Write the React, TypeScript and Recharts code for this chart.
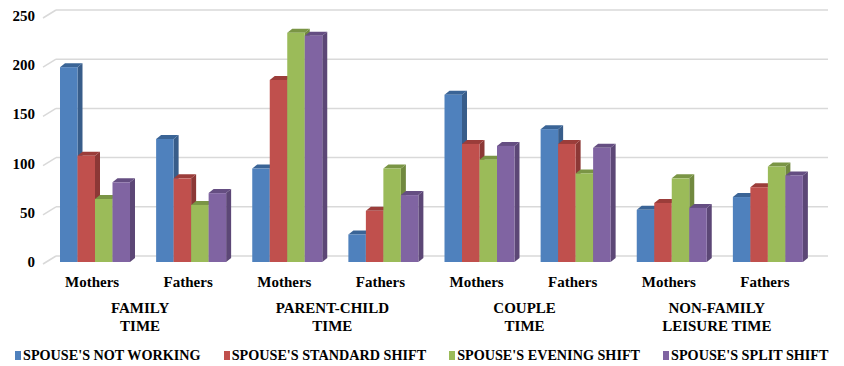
import React from "react";
import { BarChart, Bar, XAxis, YAxis, CartesianGrid, Legend } from "recharts";

const categories = ["Mothers", "Fathers", "Mothers", "Fathers", "Mothers", "Fathers", "Mothers", "Fathers"];
const groupLabels = [["FAMILY", "TIME"], ["PARENT-CHILD", "TIME"], ["COUPLE", "TIME"], ["NON-FAMILY", "LEISURE TIME"]];
const notWorking = [198, 125, 95, 28, 170, 135, 53, 66];
const standardShift = [108, 85, 185, 52, 120, 120, 60, 76];
const eveningShift = [64, 58, 233, 95, 104, 90, 85, 97];
const splitShift = [81, 70, 230, 68, 118, 116, 55, 88];
const yTicks = [0, 50, 100, 150, 200, 250];

const series = [
  { key: "notWorking", name: "SPOUSE'S NOT WORKING", color: "#4F81BD", dark: "#385D8A", top: "#3A6496" },
  { key: "standard", name: "SPOUSE'S STANDARD SHIFT", color: "#C0504D", dark: "#8C3836", top: "#9B3D3A" },
  { key: "evening", name: "SPOUSE'S EVENING SHIFT", color: "#9BBB59", dark: "#71893F", top: "#7A9545" },
  { key: "split", name: "SPOUSE'S SPLIT SHIFT", color: "#8064A2", dark: "#5C4776", top: "#654E82" },
];

const data = categories.map((c, i) => ({
  cat: c,
  idx: i,
  notWorking: notWorking[i],
  standard: standardShift[i],
  evening: eveningShift[i],
  split: splitShift[i],
}));

const FONT = "'Liberation Serif', 'DejaVu Serif', serif";
const DX = 5;
const DY = 4;

function Bar3D(props: any) {
  const { x, y, width, height, fill, dark, top } = props;
  if (height == null || height <= 0) return null;
  const side = `M${x + width},${y} L${x + width + DX},${y - DY} L${x + width + DX},${y + height - DY} L${x + width},${y + height} Z`;
  const cap = `M${x},${y} L${x + DX},${y - DY} L${x + width + DX},${y - DY} L${x + width},${y} Z`;
  return (
    <g>
      <path d={side} fill={dark} />
      <path d={cap} fill={top} />
      <rect x={x} y={y} width={width} height={height} fill={fill} />
    </g>
  );
}

function GridLine(props: any) {
  const { x1, y1, x2, index } = props;
  return (
    <g key={`g-${index}`}>
      <line x1={x1 - 4} y1={y1 + 2} x2={x1 + 9} y2={y1 - 6} stroke="#D9D9D9" strokeWidth={1.5} />
      <line x1={x1 + 9} y1={y1 - 6} x2={x2 + 12} y2={y1 - 6} stroke="#D9D9D9" strokeWidth={1.5} />
    </g>
  );
}

function CatTick(props: any) {
  const { x, y, payload, index } = props;
  const band = 96;
  const g = groupLabels[Math.floor(index / 2)];
  return (
    <g>
      <text x={x - 3} y={y + 17} textAnchor="middle" fontFamily={FONT} fontWeight="bold" fontSize={15} fill="#000">
        {payload.value}
      </text>
      {index % 2 === 0 && (
        <text x={x + band / 2 - 3} y={y + 43} textAnchor="middle" fontFamily={FONT} fontWeight="bold" fontSize={15} fill="#000">
          {g.map((line, k) => (
            <tspan key={k} x={x + band / 2 - 3} dy={k === 0 ? 0 : 18}>
              {line}
            </tspan>
          ))}
        </text>
      )}
    </g>
  );
}

function ValTick(props: any) {
  const { x, y, payload } = props;
  return (
    <text x={x - 4} y={y + 5} textAnchor="end" fontFamily={FONT} fontWeight="bold" fontSize={15} fill="#000">
      {payload.value}
    </text>
  );
}

function LegendContent() {
  return (
    <div style={{ display: "flex", gap: 23, paddingLeft: 15, fontFamily: FONT, fontWeight: "bold", fontSize: 14.2, whiteSpace: "nowrap" }}>
      {series.map((s) => (
        <div key={s.key} style={{ display: "flex", alignItems: "center" }}>
          <span style={{ display: "inline-block", width: 6, height: 9, background: s.color, marginRight: 2 }} />
          <span>{s.name}</span>
        </div>
      ))}
    </div>
  );
}

export default function App() {
  return (
    <div style={{ position: "absolute", left: 0, top: 0, width: 844, height: 366, background: "#fff" }}>
      <BarChart
        width={844}
        height={366}
        data={data}
        margin={{ top: 16, right: 28, bottom: 54, left: 3 }}
        barGap={0}
        barSize={17.5}
      >
        <CartesianGrid vertical={false} horizontal={(p: any) => <GridLine {...p} />} />
        <XAxis dataKey="cat" axisLine={false} tickLine={false} tick={<CatTick />} interval={0} />
        <YAxis
          domain={[0, 250]}
          ticks={yTicks}
          axisLine={false}
          tickLine={false}
          width={44}
          tick={<ValTick />}
        />
        <Legend
          verticalAlign="bottom"
          content={<LegendContent />}
          wrapperStyle={{ position: "absolute", left: 0, top: 347, width: 844, height: 20 }}
        />
        {series.map((s) => (
          <Bar
            key={s.key}
            dataKey={s.key}
            name={s.name}
            fill={s.color}
            isAnimationActive={false}
            shape={(p: any) => <Bar3D {...p} dark={s.dark} top={s.top} />}
          />
        ))}
      </BarChart>
    </div>
  );
}
